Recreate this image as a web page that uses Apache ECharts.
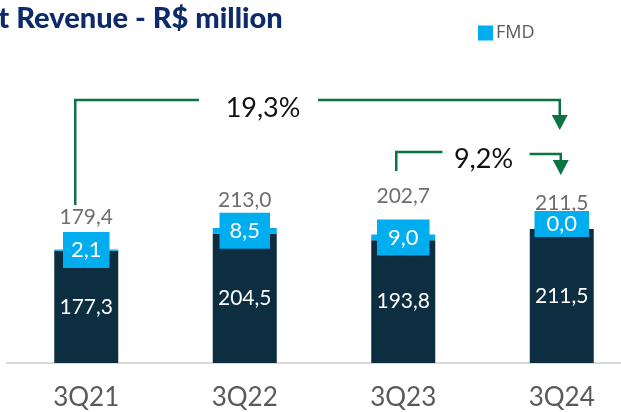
<!DOCTYPE html>
<html>
<head>
<meta charset="utf-8">
<script src="https://cdn.jsdelivr.net/npm/echarts@6/dist/echarts.min.js"></script>
<style>
  html, body { margin: 0; padding: 0; background: #fff; }
  #box { width: 621px; height: 412px; }
</style>
</head>
<body>
<div id="box"></div>
<script>
// data
const quarters = ['3Q21', '3Q22', '3Q23', '3Q24'];
const baseRevenue = [177.3, 204.5, 193.8, 211.5];
const fmdRevenue = [2.1, 8.5, 9.0, 0.0];
const totalRevenue = [179.4, 213.0, 202.7, 211.5];
const growthLong = '19,3%';   // 3Q21 -> 3Q24
const growthShort = '9,2%';   // 3Q23 -> 3Q24

// label nudges (style only)
const totalLabelGap = [22, 17, 28, 15];
const fmdPad = [[7, 8], [7, 10], [7, 11], [2, 12]];
const fmdShift = [0, 0, 0, -5];

const DARK = '#0c2e40', BLUE = '#00adef', GREEN = '#0b7442';
const FONT = 'Lato';
const fmt = v => v.toFixed(1).replace('.', ',');

let chart = echarts.init(document.getElementById('box'), null, { renderer: 'canvas' });

let option = {
  animation: false,
  title: {
    text: 'Net Revenue - R$ million',
    left: -44, top: -1,
    textStyle: { fontFamily: FONT, fontSize: 29, fontWeight: 900, color: '#0d2a6b' }
  },
  legend: {
    data: ['FMD'],
    left: 473, top: 19,
    itemWidth: 15, itemHeight: 15, itemGap: 4,
    icon: 'rect',
    textStyle: { fontFamily: 'Open Sans', fontSize: 18, color: '#595959', padding: [0, 0, 0, -2] }
  },
  grid: { left: 7, right: -20, top: 173, bottom: 49, containLabel: false, outerBoundsMode: 'none' },
  xAxis: {
    type: 'category',
    data: quarters,
    axisLine: { lineStyle: { color: '#d9d9d9', width: 2 } },
    axisTick: { show: false },
    axisLabel: { margin: 22, fontFamily: FONT, fontSize: 26, color: '#595959' }
  },
  yAxis: { type: 'value', min: 0, max: 300, show: false, splitLine: { show: false } },
  series: [
    {
      name: 'Base', type: 'bar', stack: 'rev', barWidth: 64,
      data: baseRevenue,
      itemStyle: { color: DARK },
      label: {
        show: true, position: 'inside', formatter: p => fmt(p.value),
        fontFamily: FONT, fontSize: 21, color: '#fff'
      }
    },
    {
      name: 'FMD', type: 'bar', stack: 'rev', barWidth: 64,
      data: fmdRevenue.map((v, i) => ({
        value: v,
        label: { padding: fmdPad[i], offset: [0, fmdShift[i]] }
      })),
      itemStyle: { color: BLUE },
      label: {
        show: true, position: 'inside', formatter: p => fmt(p.value),
        fontFamily: FONT, fontSize: 22, lineHeight: 22, color: '#fff',
        backgroundColor: BLUE
      },
      z: 3
    },
    {
      name: 'Total', type: 'scatter', symbolSize: 0,
      data: totalRevenue.map((v, i) => ({ value: v, label: { distance: totalLabelGap[i] } })),
      label: {
        show: true, position: 'top', formatter: p => fmt(p.value),
        fontFamily: FONT, fontSize: 21, lineHeight: 21, color: '#4a4a4a'
      },
      z: 1
    }
  ]
};
chart.setOption(option);

// growth arrows, hung on the category positions
function cx(q) { return chart.convertToPixel({ xAxisIndex: 0 }, q); }
function arrowHead(x, y) {
  return { type: 'polygon', shape: { points: [[x - 8, y], [x + 8, y], [x, y + 15]] }, style: { fill: GREEN } };
}
function path(points) {
  return { type: 'polyline', shape: { points: points }, style: { stroke: GREEN, lineWidth: 2.5, fill: null } };
}
function growthText(x, y, txt) {
  return {
    type: 'text', x: x, y: y,
    style: { text: txt, fontFamily: FONT, fontSize: 27, fill: '#111', align: 'center', verticalAlign: 'middle' }
  };
}

let x21 = cx('3Q21'), x23 = cx('3Q23'), x24 = cx('3Q24');
let midLong = (x21 + x24) / 2 - 61;
let midShort = (x23 + x24) / 2 + 1;

chart.setOption({
  graphic: [
    path([[x21 - 11, 205], [x21 - 11, 100], [midLong - 64, 100]]),
    path([[midLong + 55, 100], [x24 - 2, 100], [x24 - 2, 116]]),
    arrowHead(x24 - 2, 115),
    growthText(midLong, 108, growthLong),
    path([[x23 - 7, 171], [x23 - 7, 152], [midShort - 41, 152]]),
    path([[midShort + 46, 154], [x24 - 1, 154], [x24 - 1, 161]]),
    arrowHead(x24 - 1, 160),
    growthText(midShort, 159, growthShort)
  ]
});
</script>
</body>
</html>
